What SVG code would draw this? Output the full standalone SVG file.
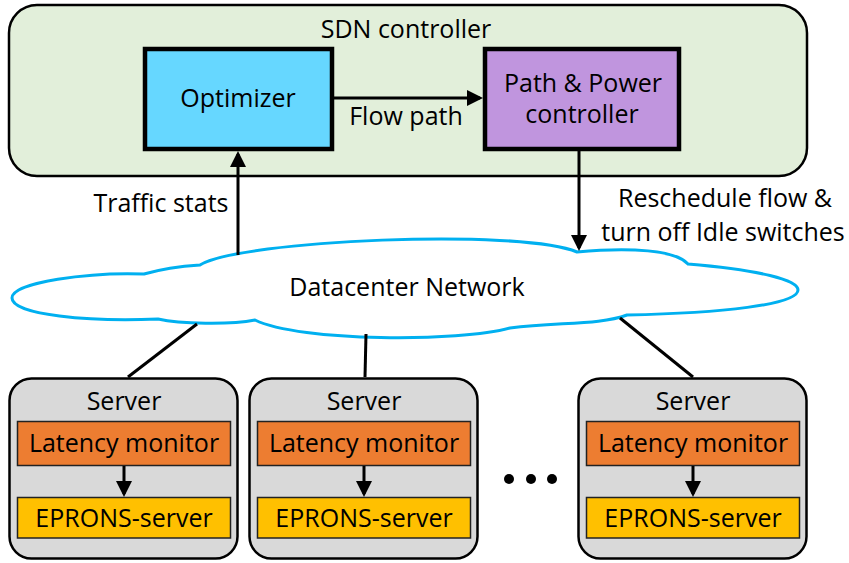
<svg xmlns="http://www.w3.org/2000/svg" width="849" height="563" viewBox="0 0 849 563">
<defs>
<style>
text{font-family:"Open Sans","Liberation Sans",sans-serif;font-size:25px;fill:#000;text-anchor:middle}
.box{stroke:#000;stroke-width:4.5}
.srv{fill:#D9D9D9;stroke:#000;stroke-width:2.5}
.lat{fill:#ED7D31;stroke:#222;stroke-width:1.5}
.epr{fill:#FFC000;stroke:#222;stroke-width:1.5}
.ln{stroke:#000;stroke-width:3;fill:none}
.arr{stroke:#000;stroke-width:3;fill:none;marker-end:url(#ah)}
</style>
<marker id="ah" markerUnits="userSpaceOnUse" markerWidth="16" markerHeight="16" refX="13" refY="8" orient="auto">
<path d="M0,0 L16,8 L0,16 Z" fill="#000"/>
</marker>
</defs>
<rect width="849" height="563" fill="#fff"/>

<g id="sdn-controller">
<rect x="9" y="5" width="798" height="171" rx="28" fill="#E2EFDA" stroke="#000" stroke-width="2.5"/>
<text x="406" y="38">SDN controller</text>
</g>

<g id="optimizer">
<rect class="box" x="145" y="49" width="187" height="100" fill="#66D7FF"/>
<text x="238" y="107">Optimizer</text>
</g>

<g id="path-power-controller">
<rect class="box" x="485" y="49" width="194" height="100" fill="#C095DE"/>
<text x="583" y="92">Path &amp; Power</text>
<text x="582" y="123">controller</text>
</g>

<g id="datacenter-network">
<path d="M12,298 C12,282 90,272 144,274 C165,268 185,266 200,265 C240,240 520,228 577,252 C630,247 676,250 688,264 C760,270 798,280 798,290 C798,305 720,313 627,315 C600,325 560,322 510,328 C460,342 300,342 255,320 C230,325 180,324 158,319 C90,322 12,315 12,298 Z" fill="#fff" stroke="#00B0F0" stroke-width="3"/>
<text x="407" y="296">Datacenter Network</text>
</g>

<g id="labels">
<text x="406" y="125">Flow path</text>
<text x="161" y="212">Traffic stats</text>
<text x="725" y="207">Reschedule flow &amp;</text>
<text x="723" y="241">turn off Idle switches</text>
</g>

<g id="server-1">
<rect class="srv" x="9.5" y="378.5" width="228" height="180" rx="22"/>
<text x="124" y="410">Server</text>
<rect class="lat" x="17.5" y="421.5" width="213" height="44"/>
<text x="124" y="452">Latency monitor</text>
<rect class="epr" x="17.5" y="497.5" width="213" height="40.5"/>
<text x="124" y="527">EPRONS-server</text>
</g>

<g id="server-2">
<rect class="srv" x="249.5" y="378.5" width="228" height="180" rx="22"/>
<text x="364" y="410">Server</text>
<rect class="lat" x="257.5" y="421.5" width="213" height="44"/>
<text x="364" y="452">Latency monitor</text>
<rect class="epr" x="257.5" y="497.5" width="213" height="40.5"/>
<text x="364" y="527">EPRONS-server</text>
</g>

<g id="ellipsis">
<circle cx="509" cy="479" r="5" fill="#000"/>
<circle cx="531" cy="479" r="5" fill="#000"/>
<circle cx="552" cy="479" r="5" fill="#000"/>
</g>

<g id="server-3">
<rect class="srv" x="578.5" y="378.5" width="228" height="180" rx="22"/>
<text x="693" y="410">Server</text>
<rect class="lat" x="586.5" y="421.5" width="213" height="44"/>
<text x="693" y="452">Latency monitor</text>
<rect class="epr" x="586.5" y="497.5" width="213" height="40.5"/>
<text x="693" y="527">EPRONS-server</text>
</g>

<g id="connectors">
<path class="arr" d="M334,98 L480,98"/>
<path class="arr" d="M238,255 L238,154"/>
<path class="arr" d="M579,151 L579,248"/>
<path class="ln" d="M197,324 L128,377"/>
<path class="ln" d="M366,334 L365,377"/>
<path class="ln" d="M620,318 L693,377"/>
<path class="arr" d="M124,466 L124,494"/>
<path class="arr" d="M364,466 L364,494"/>
<path class="arr" d="M693,466 L693,494"/>
</g>
</svg>
